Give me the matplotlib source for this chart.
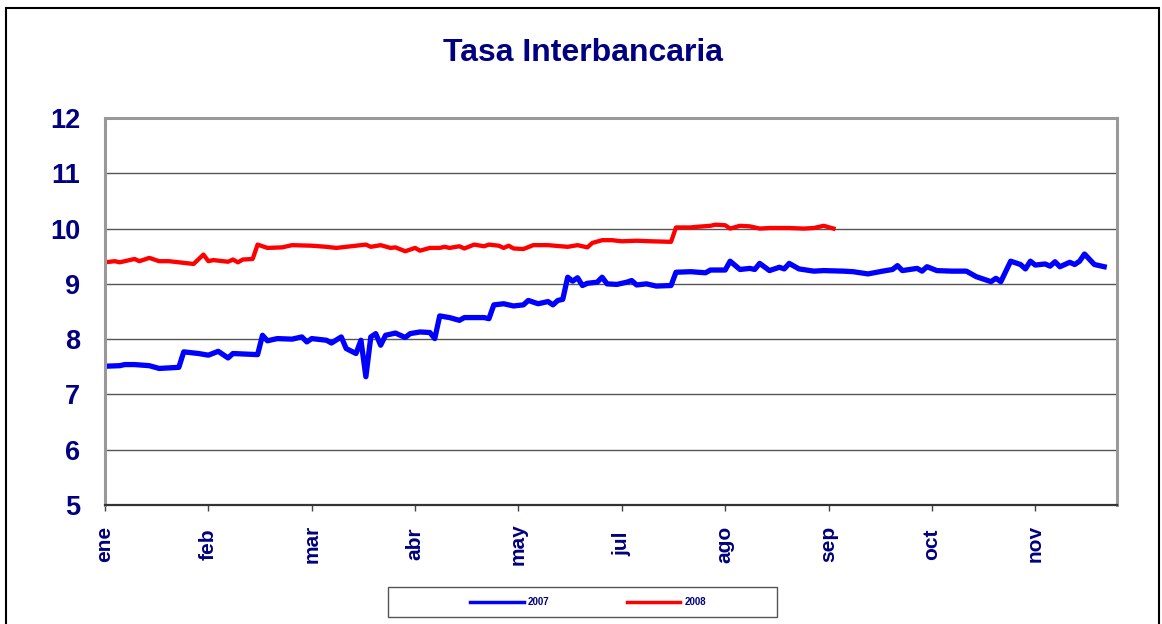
import matplotlib
matplotlib.use("Agg")
import matplotlib.pyplot as plt
from matplotlib.patches import Rectangle
from matplotlib.lines import Line2D

# trading-day index and rate
dias_2007 = [0, 3, 4, 6, 9, 11, 15, 16, 19, 21, 23, 25, 26, 31, 32, 33, 35, 38, 40, 41,
             42, 43, 45, 46, 48, 49, 51, 52, 53, 54, 55, 56, 57, 59, 61, 62, 64, 66, 67, 68,
             70, 72, 73, 77, 78, 79, 81, 83, 85, 86, 88, 90, 91, 92, 93, 94, 95, 96, 97, 98,
             100, 101, 102, 104, 106, 107, 108, 110, 112, 115, 116, 119, 122, 123, 126, 127, 129, 131, 132, 133,
             135, 137, 138, 139, 141, 144, 146, 150, 152, 155, 158, 160, 161, 162, 165, 166, 167, 169, 172, 175,
             177, 178, 180, 181, 182, 184, 186, 187, 188, 189, 191, 192, 193, 194, 196, 197, 198, 199, 201, 203]
tasa_2007 = [7.51, 7.52, 7.54, 7.54, 7.52, 7.47, 7.49, 7.77, 7.74, 7.71, 7.78, 7.66, 7.74, 7.72, 8.07, 7.97, 8.01, 8.00, 8.04, 7.95,
             8.01, 8.00, 7.98, 7.93, 8.04, 7.83, 7.74, 7.98, 7.32, 8.04, 8.10, 7.89, 8.07, 8.11, 8.03, 8.10, 8.13, 8.12, 8.01, 8.42,
             8.39, 8.34, 8.39, 8.39, 8.37, 8.62, 8.64, 8.60, 8.62, 8.70, 8.64, 8.68, 8.62, 8.70, 8.72, 9.12, 9.05, 9.11, 8.97, 9.01,
             9.03, 9.12, 9.00, 8.99, 9.03, 9.06, 8.98, 9.00, 8.96, 8.97, 9.21, 9.22, 9.20, 9.25, 9.25, 9.41, 9.26, 9.28, 9.26, 9.37,
             9.24, 9.30, 9.27, 9.37, 9.27, 9.23, 9.24, 9.23, 9.22, 9.18, 9.23, 9.26, 9.33, 9.24, 9.28, 9.23, 9.31, 9.24, 9.23, 9.23,
             9.13, 9.10, 9.04, 9.10, 9.04, 9.41, 9.35, 9.27, 9.41, 9.34, 9.36, 9.32, 9.40, 9.31, 9.39, 9.35, 9.41, 9.54, 9.35, 9.31]

dias_2008 = [0, 2, 3, 6, 7, 9, 11, 13, 16, 18, 20, 21, 22, 25, 26, 27, 28, 30, 31, 33,
             36, 38, 42, 45, 47, 49, 53, 54, 56, 58, 59, 61, 63, 64, 66, 68, 69, 70, 72, 73,
             75, 77, 78, 80, 81, 82, 83, 85, 87, 90, 94, 96, 98, 99, 101, 103, 105, 108, 111, 115,
             116, 119, 120, 123, 124, 126, 127, 129, 131, 133, 135, 139, 142, 144, 146, 148]
tasa_2008 = [9.39, 9.41, 9.39, 9.45, 9.41, 9.47, 9.41, 9.41, 9.38, 9.36, 9.53, 9.41, 9.43, 9.40, 9.44, 9.39, 9.44, 9.45, 9.71, 9.65,
             9.66, 9.70, 9.69, 9.67, 9.65, 9.67, 9.71, 9.67, 9.70, 9.65, 9.66, 9.59, 9.65, 9.60, 9.65, 9.65, 9.67, 9.65, 9.68, 9.64,
             9.71, 9.68, 9.71, 9.69, 9.65, 9.69, 9.64, 9.63, 9.70, 9.70, 9.67, 9.70, 9.66, 9.74, 9.79, 9.79, 9.77, 9.78, 9.77, 9.76,
             10.02, 10.02, 10.03, 10.05, 10.07, 10.06, 10.00, 10.05, 10.04, 10.00, 10.01, 10.01, 10.00, 10.01, 10.05, 10.00]

meses = ["ene", "feb", "mar", "abr", "may", "jul", "ago", "sep", "oct", "nov"]
pos_meses = [21 * i for i in range(len(meses))]

NAVY = "#000080"
plt.rcParams["font.family"] = ["Liberation Sans", "DejaVu Sans"]

fig = plt.figure(figsize=(11.62, 6.24), dpi=100)
W, H = 1162, 624

# outer chart border
fig.patches.append(Rectangle((6 / W, -0.1), (1159 - 6) / W, (624 - 8) / H + 0.1,
                             transform=fig.transFigure, fill=False, edgecolor="black",
                             lw=1.5, clip_on=False))

ax = fig.add_axes([105 / W, (H - 505) / H, (1117 - 105) / W, (505 - 118) / H])
ax.plot(dias_2007, tasa_2007, color="#0000FF", lw=3.8, solid_joinstyle="round")
ax.plot(dias_2008, tasa_2008, color="#FF0000", lw=3.1, solid_joinstyle="round")

ax.set_xlim(0, 205.6)
ax.set_ylim(5, 12)
ax.set_yticks(range(5, 13))
ax.grid(axis="y", color="#555555", lw=1.0)
ax.set_axisbelow(True)

ax.set_xticks(pos_meses)
ax.set_xticklabels(meses, rotation=90)
for lbl in ax.get_xticklabels():
    lbl.set_va("center")
ax.tick_params(axis="x", direction="out", length=4, width=1, color="#444444",
               pad=24, labelsize=15, labelcolor=NAVY)
ax.tick_params(axis="y", length=0, pad=18, labelsize=19.5, labelcolor=NAVY)
for lbl in ax.get_xticklabels() + ax.get_yticklabels():
    lbl.set_fontweight("bold")

for side in ["left", "right", "top"]:
    ax.spines[side].set_color("#999999")
    ax.spines[side].set_linewidth(2.2)
ax.spines["bottom"].set_color("#333333")
ax.spines["bottom"].set_linewidth(1.6)

fig.text(583 / W, 1 - 53 / H, "Tasa Interbancaria", ha="center", va="center",
         fontsize=23, fontweight="bold", color=NAVY)

# legend box at the bottom
fig.patches.append(Rectangle((388 / W, 1 - 617 / H), (777 - 388) / W, 30 / H,
                             transform=fig.transFigure, fill=False, edgecolor="#555555", lw=1.0))
handles = [Line2D([], [], color="#0000FF", lw=2.5), Line2D([], [], color="#FF0000", lw=2.5)]
leg = fig.legend(handles, ["2007", "2008"], loc="center", bbox_to_anchor=(588 / W, 1 - 602 / H),
                 ncol=2, frameon=False, handlelength=5.5, handletextpad=0.4,
                 columnspacing=8.0, prop={"size": 7, "weight": "bold"})
for t in leg.get_texts():
    t.set_color(NAVY)

fig.savefig("out.png", dpi=100)
